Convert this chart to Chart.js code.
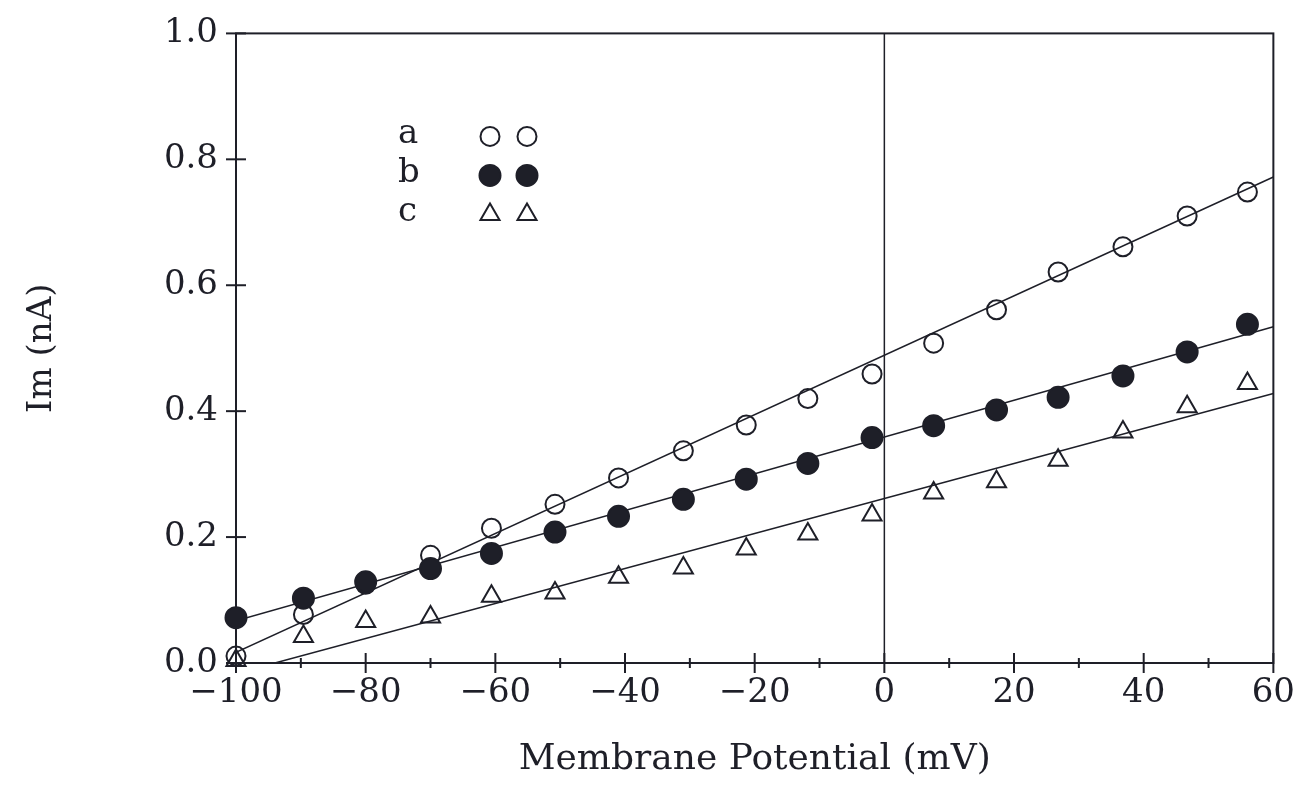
<!DOCTYPE html>
<html>
<head>
<meta charset="UTF-8">
<title>Im vs Membrane Potential</title>
<style>
    body { margin: 0; background: #fff; overflow: hidden; }
    #wrap { width: 1305px; height: 793px; margin-top: -5px; }
</style>
<script src="https://cdn.jsdelivr.net/npm/chart.js"></script>
</head>
<body>
<div id="wrap"><canvas id="ivChart"></canvas></div>
<script>
    // membrane potential (mV) of each measurement
    const voltages = [-100, -89.6, -80, -70, -60.6, -50.8, -41, -31, -21.3, -11.8, -1.9, 7.6, 17.3, 26.8, 36.8, 46.7, 56];
    // current (nA) for the three series
    const seriesA = [0.011, 0.077, 0.125, 0.171, 0.214, 0.252, 0.294, 0.337, 0.378, 0.420, 0.459, 0.508, 0.561, 0.621, 0.661, 0.710, 0.748];
    const seriesB = [0.072, 0.103, 0.129, 0.150, 0.174, 0.208, 0.233, 0.260, 0.292, 0.317, 0.358, 0.377, 0.402, 0.422, 0.456, 0.494, 0.538];
    const seriesC = [0.004, 0.042, 0.066, 0.073, 0.106, 0.111, 0.136, 0.151, 0.181, 0.205, 0.235, 0.270, 0.288, 0.322, 0.367, 0.407, 0.444];
    // fitted straight lines (end points)
    const fitA = { x: [-100, 60], y: [0.017, 0.772] };
    const fitB = { x: [-100, 60], y: [0.067, 0.534] };
    const fitC = { x: [-94, 60], y: [0, 0.428] };
    const legendLabels = ['a', 'b', 'c'];

    const ink = '#1e1f28';
    const fontFamily = '"DejaVu Serif", serif';

    function pts(xs, ys) {
        return xs.map((x, i) => ({ x: x, y: ys[i] }));
    }

    const styles = [
        { pointStyle: 'circle', radius: 9.5, fill: 'transparent' },
        { pointStyle: 'circle', radius: 10.5, fill: ink },
        { pointStyle: 'triangle', radius: 11, fill: 'transparent' }
    ];

    // axes frame, crossing tick marks, zero line
    const framePlugin = {
        id: 'frame',
        beforeDatasetsDraw(chart) {
            const { ctx, chartArea: a, scales: { x, y } } = chart;
            ctx.save();
            ctx.strokeStyle = ink;
            ctx.lineWidth = 2;
            ctx.strokeRect(a.left, a.top, a.right - a.left, a.bottom - a.top);
            ctx.lineWidth = 1.5;
            const x0 = x.getPixelForValue(0);
            ctx.beginPath();
            ctx.moveTo(x0, a.top);
            ctx.lineTo(x0, a.bottom);
            ctx.stroke();
            ctx.lineWidth = 2;
            for (let v = -100; v <= 60; v += 10) {
                const px = x.getPixelForValue(v);
                const len = (v % 20 === 0) ? 10 : 5;
                ctx.beginPath();
                ctx.moveTo(px, a.bottom - len);
                ctx.lineTo(px, a.bottom + len);
                ctx.stroke();
            }
            for (let k = 0; k <= 5; k++) {
                const py = y.getPixelForValue(k * 0.2);
                ctx.beginPath();
                ctx.moveTo(a.left - 10, py);
                ctx.lineTo(a.left + 10, py);
                ctx.stroke();
            }
            ctx.restore();
        },
        afterDraw(chart) {
            const { ctx, chartArea: a } = chart;
            ctx.save();
            ctx.font = '34px ' + fontFamily;
            ctx.fillStyle = ink;
            ctx.strokeStyle = ink;
            ctx.textBaseline = 'middle';
            legendLabels.forEach((lab, i) => {
                const ly = a.top + 103 + i * 39;
                ctx.fillText(lab, a.left + 162, ly - 2);
                const st = styles[i];
                [a.left + 254, a.left + 291].forEach(lx => {
                    ctx.fillStyle = st.fill;
                    ctx.lineWidth = 2;
                    Chart.helpers.drawPoint(ctx, { pointStyle: st.pointStyle, radius: st.radius, borderWidth: 2, rotation: 0 }, lx, ly);
                });
                ctx.fillStyle = ink;
            });
            ctx.restore();
        }
    };

    function pointSet(label, ys, st) {
        return {
            type: 'scatter',
            label: label,
            data: pts(voltages, ys),
            pointStyle: st.pointStyle,
            pointRadius: st.radius,
            pointBorderWidth: 2,
            pointBorderColor: ink,
            pointBackgroundColor: st.fill,
            showLine: false,
            clip: false
        };
    }

    function fitSet(fit) {
        return {
            type: 'line',
            data: pts(fit.x, fit.y),
            borderColor: ink,
            borderWidth: 1.5,
            pointRadius: 0,
            fill: false
        };
    }

    new Chart(document.getElementById('ivChart'), {
        data: {
            datasets: [
                pointSet('b', seriesB, styles[1]),
                pointSet('a', seriesA, styles[0]),
                pointSet('c', seriesC, styles[2]),
                fitSet(fitA),
                fitSet(fitB),
                fitSet(fitC)
            ]
        },
        options: {
            responsive: true,
            maintainAspectRatio: false,
            animation: false,
            layout: { padding: { top: 28, right: 12, left: 0, bottom: 0 } },
            plugins: { legend: { display: false }, tooltip: { enabled: false } },
            scales: {
                x: {
                    type: 'linear',
                    min: -100, max: 60,
                    grid: { display: false, drawTicks: false },
                    border: { display: false },
                    afterFit(s) { s.height = 125; },
                    ticks: {
                        stepSize: 20,
                        padding: 10,
                        color: ink,
                        font: { family: fontFamily, size: 34 },
                        callback: v => v < 0 ? '\u2212' + Math.abs(v) : String(v)
                    },
                    title: {
                        display: true,
                        text: 'Membrane Potential (mV)',
                        color: ink,
                        font: { family: fontFamily, size: 36 },
                        padding: { top: 0, bottom: 7 }
                    }
                },
                y: {
                    type: 'linear',
                    min: 0, max: 1,
                    grid: { display: false, drawTicks: false },
                    border: { display: false },
                    afterFit(s) { s.width = 236; },
                    ticks: {
                        stepSize: 0.2,
                        padding: 18,
                        color: ink,
                        font: { family: fontFamily, size: 34 },
                        callback: v => v.toFixed(1)
                    },
                    title: {
                        display: true,
                        text: 'Im (nA)',
                        color: ink,
                        font: { family: fontFamily, size: 34 },
                        padding: { top: 22, bottom: 0 }
                    }
                }
            }
        },
        plugins: [framePlugin]
    });
</script>
</body>
</html>
